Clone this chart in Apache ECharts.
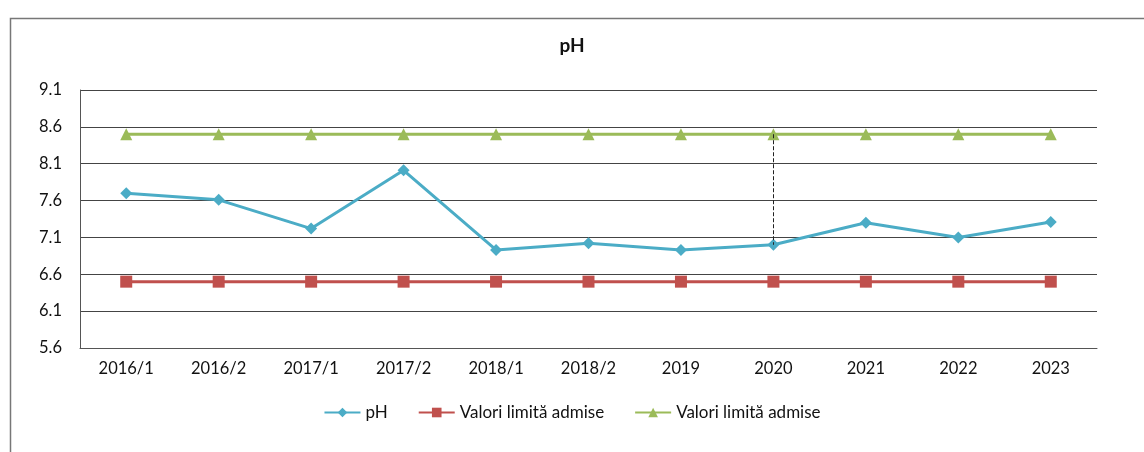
<!DOCTYPE html>
<html>
<head>
<meta charset="utf-8">
<script src="https://cdn.jsdelivr.net/npm/echarts@6/dist/echarts.min.js"></script>
<style>
html, body { margin: 0; padding: 0; background: #fff; }
#chart { width: 1144px; height: 452px; }
</style>
</head>
<body>
<div id="chart"></div>
<script>
var categories = ['2016/1', '2016/2', '2017/1', '2017/2', '2018/1', '2018/2', '2019', '2020', '2021', '2022', '2023'];
var phValues = [7.70, 7.61, 7.22, 8.01, 6.93, 7.02, 6.93, 7.0, 7.30, 7.10, 7.31];
var limitMin = [6.5, 6.5, 6.5, 6.5, 6.5, 6.5, 6.5, 6.5, 6.5, 6.5, 6.5];
var limitMax = [8.5, 8.5, 8.5, 8.5, 8.5, 8.5, 8.5, 8.5, 8.5, 8.5, 8.5];
var yTicks = { min: 5.6, max: 9.1, step: 0.5 };

var font = 'Lato, "Open Sans", sans-serif';
var myChart = echarts.init(document.getElementById('chart'));

var option = {
    backgroundColor: '#fff',
    animation: false,
    graphic: [{
        type: 'rect',
        left: 8, top: 16,
        shape: { width: 1160, height: 460 },
        style: { fill: 'none', stroke: '#777', lineWidth: 1.5 },
        silent: true
    }],
    title: {
        text: 'pH',
        left: 'center',
        top: 31,
        textStyle: { fontFamily: font, fontSize: 19, fontWeight: 'bold', color: '#111' }
    },
    legend: {
        bottom: 26,
        left: 'center',
        itemGap: 30,
        itemWidth: 36,
        itemHeight: 12,
        textStyle: { fontFamily: font, fontSize: 17, color: '#111' },
        formatter: function (name) { return name.replace(/ \((min|max)\)$/, ''); },
        data: ['pH', 'Valori limită admise (min)', 'Valori limită admise (max)']
    },
    grid: { left: 80, right: 47, top: 90, bottom: 104 },
    xAxis: {
        type: 'category',
        data: categories,
        boundaryGap: true,
        axisLine: { show: true, lineStyle: { color: '#555', width: 1 } },
        axisTick: { show: false },
        axisLabel: { margin: 12, fontFamily: font, fontSize: 16.5, color: '#111' }
    },
    yAxis: {
        type: 'value',
        min: yTicks.min,
        max: yTicks.max,
        interval: yTicks.step,
        axisLine: { show: true, lineStyle: { color: '#555', width: 1 } },
        axisTick: { show: false },
        axisLabel: {
            margin: 18, fontFamily: font, fontSize: 16.5, color: '#111',
            formatter: function (v) { return v.toFixed(1); }
        },
        splitLine: { show: true, lineStyle: { color: '#444', width: 1.2 } }
    },
    series: [{
        name: 'pH',
        type: 'line',
        data: phValues,
        symbol: 'diamond',
        symbolSize: 12,
        lineStyle: { color: '#4BACC6', width: 3 },
        itemStyle: { color: '#4BACC6' },
        z: 3,
        markLine: {
            silent: true,
            symbol: 'none',
            label: { show: false },
            lineStyle: { color: '#222', type: 'dashed', width: 1 },
            data: [[{ coord: ['2020', limitMax[7]] }, { coord: ['2020', phValues[7]] }]]
        }
    }, {
        name: 'Valori limită admise (min)',
        type: 'line',
        data: limitMin,
        symbol: 'rect',
        symbolSize: 12,
        lineStyle: { color: '#C0504D', width: 3 },
        itemStyle: { color: '#C0504D' }
    }, {
        name: 'Valori limită admise (max)',
        type: 'line',
        data: limitMax,
        symbol: 'triangle',
        symbolSize: 12,
        lineStyle: { color: '#9BBB59', width: 3 },
        itemStyle: { color: '#9BBB59' }
    }]
};
myChart.setOption(option);
</script>
</body>
</html>
